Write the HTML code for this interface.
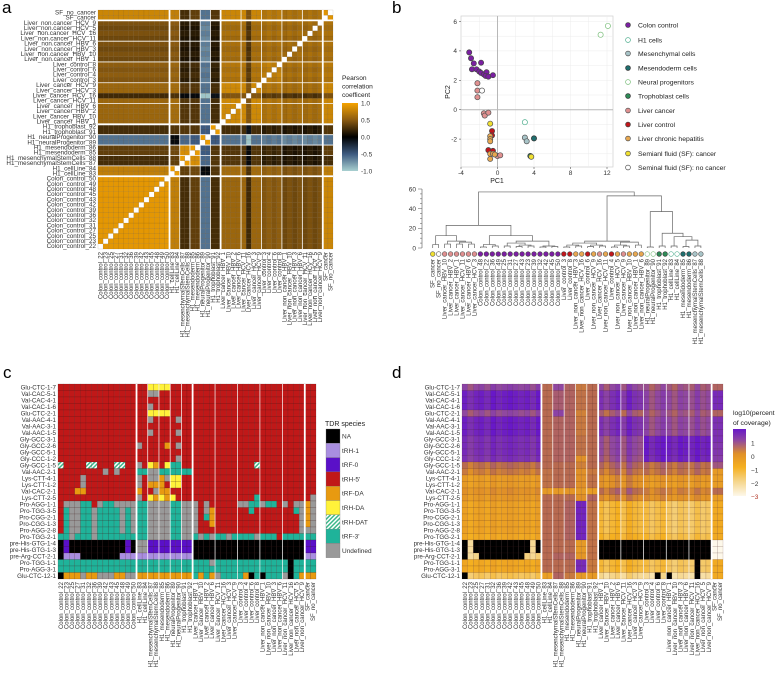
<!DOCTYPE html>
<html><head><meta charset="utf-8"><style>
html,body{margin:0;padding:0;background:#fff;}
svg{display:block;font-family:"Liberation Sans",Arial,sans-serif;}
</style></head><body>
<svg id="fig" width="778" height="673" viewBox="0 0 778 673" xmlns="http://www.w3.org/2000/svg">
<defs>
<pattern id="hatch" width="3" height="3" patternUnits="userSpaceOnUse" patternTransform="rotate(45)">
<rect width="3" height="3" fill="#ffffff"/><rect width="1.5" height="3" fill="#3cb88a"/>
</pattern>
<linearGradient id="gradA" x1="0" y1="0" x2="0" y2="1">
<stop offset="0" stop-color="#f5a300"/><stop offset="0.25" stop-color="#8a5a10"/><stop offset="0.5" stop-color="#000"/><stop offset="0.75" stop-color="#3d5a80"/><stop offset="1" stop-color="#a8d0d0"/>
</linearGradient>
<linearGradient id="gradD" x1="0" y1="0" x2="0" y2="1">
<stop offset="0" stop-color="#6818c8"/><stop offset="0.17" stop-color="#9048a0"/><stop offset="0.37" stop-color="#e09028"/><stop offset="0.57" stop-color="#f5b020"/><stop offset="0.78" stop-color="#f5d58a"/><stop offset="1" stop-color="#fdf8ea"/>
</linearGradient>
</defs>
<text x="2" y="13" font-size="17">a</text>
<text x="392" y="13" font-size="17">b</text>
<text x="3" y="378" font-size="17">c</text>
<text x="392" y="378" font-size="17">d</text>
<g id="ga"></g>
<g id="gb"></g>
<g id="gdend"></g>
<g id="gc"></g>
<g id="gd"></g>
</svg>
<script>
const samples=["Colon_control_22","Colon_control_23","Colon_control_25","Colon_control_27","Colon_control_31","Colon_control_32","Colon_control_36","Colon_control_39","Colon_control_42","Colon_control_43","Colon_control_45","Colon_control_48","Colon_control_49","Colon_control_50","H1_cellLine_83","H1_cellLine_84","H1_mesenchymalStemCells_87","H1_mesenchymalStemCells_88","H1_mesendoderm_85","H1_mesendoderm_86","H1_neuralProgenitor_89","H1_neuralProgenitor_90","H1_trophoblast_91","H1_trophoblast_92","Liver_cancer_HBV_1","Liver_cancer_HBV_10","Liver_cancer_HBV_2","Liver_cancer_HBV_6","Liver_cancer_HCV_11","Liver_cancer_HCV_16","Liver_cancer_HCV_3","Liver_cancer_HCV_9","Liver_control_3","Liver_control_4","Liver_control_6","Liver_control_8","Liver_non_cancer_HBV_1","Liver_non_cancer_HBV_10","Liver_non_cancer_HBV_3","Liver_non_cancer_HBV_6","Liver_non_cancer_HCV_11","Liver_non_cancer_HCV_16","Liver_non_cancer_HCV_5","Liver_non_cancer_HCV_9","SF_cancer","SF_no_cancer"];
const sampleGroup=[0,0,0,0,0,0,0,0,0,0,0,0,0,0,1,1,2,2,3,3,4,4,5,5,6,6,6,6,6,6,6,6,7,7,7,7,8,8,8,8,8,8,8,8,9,9];
const groupCorr=[
[0.92,0.75,0.25,0.35,-0.6,0.25,0.58,0.52,0.5,0.8],
[0.75,0.95,0.35,0.4,-0.05,0.3,0.62,0.58,0.55,0.75],
[0.25,0.35,0.95,0.85,-0.55,0.3,0.3,0.2,0.2,0.25],
[0.35,0.4,0.85,0.95,-0.5,0.3,0.3,0.25,0.2,0.35],
[-0.6,-0.05,-0.55,-0.5,0.95,-0.5,-0.6,-0.6,-0.6,-0.6],
[0.25,0.3,0.3,0.3,-0.5,0.95,0.25,0.2,0.2,0.3],
[0.58,0.62,0.3,0.3,-0.6,0.25,0.82,0.7,0.7,0.8],
[0.52,0.58,0.2,0.25,-0.6,0.2,0.7,0.78,0.72,0.72],
[0.5,0.55,0.2,0.2,-0.6,0.2,0.7,0.72,0.75,0.72],
[0.8,0.75,0.25,0.35,-0.6,0.3,0.8,0.72,0.72,0.9]];
const corrSampleShift=[0,0,0,0,0,0,0,0,0,0,0,0,0,0, 0,0,0,0,0,0,0,0,0,0, 0,0,0,0,0,-0.35,0,0, -0.05,0,-0.05,0, -0.1,-0.05,-0.1,-0.05,-0.1,-0.05,-0.1,-0.05, 0,0];
const corrTicks=[1.0,0.5,0.0,-0.5,-1.0];
// PCA
const pcaX=[-3.1,-2.9,-2.6,-1.8,-2.8,-2.3,-2,-1.8,-1.5,-1.2,-1.3,-1,-0.5, 3.0, 3.0,3.2, 4.0, 11.3,12.1, 3.6, -2.2,-2.2,-2.2,-1.5,-1.4,-1.0,0.0,0.3, -0.6,-0.6,-1.0,-0.5, -0.8,-0.8,-0.8,-0.8,-0.5,-0.8,-0.3, -0.8,3.7, -1.7];
const pcaY=[3.9,3.5,3.15,3.2,2.75,2.75,2.6,2.5,2.4,2.55,2.3,2.25,2.35, -0.85, -1.9,-2.15, -1.95, 5.1,5.7, -3.15, 1.8,1.3,0.85,-0.25,-0.4,-0.2,-3.15,-3.1, -1.45,-1.75,-2.75,-2.8, -1.8,-2.0,-2.15,-3.0,-3.0,-3.35,-3.05, -0.95,-3.2, 1.3];
const pcaGroup=[0,0,0,0,0,0,0,0,0,0,0,0,0, 1, 2,2, 3, 4,4, 5, 6,6,6,6,6,6,6,6, 7,7,7,7, 8,8,8,8,8,8,8, 9,9, 10];
const groupNames=["Colon control","H1 cells","Mesenchymal cells","Mesendoderm cells","Neural progenitors","Trophoblast cells","Liver cancer","Liver control","Liver chronic hepatitis","Semianl fluid (SF): cancer","Seminal fluid (SF): no cancer"];
const pcaXTicks=[-4,0,4,8,12];
const pcaYTicks=[-2,0,2,4,6];
// dendrogram
const leafNames=["SF_cancer","SF_no_cancer","Liver_cancer_HBV_10","Liver_cancer_HBV_2","Liver_cancer_HBV_1","Liver_cancer_HCV_11","Liver_cancer_HBV_6","Liver_cancer_HCV_3","Colon_control_48","Colon_control_22","Colon_control_36","Colon_control_49","Colon_control_25","Colon_control_31","Colon_control_27","Colon_control_43","Colon_control_23","Colon_control_39","Colon_control_32","Colon_control_42","Colon_control_45","Colon_control_50","Liver_control_3","Liver_control_8","Liver_non_cancer_HBV_3","Liver_non_cancer_HCV_16","Liver_control_6","Liver_non_cancer_HCV_9","Liver_cancer_HCV_16","Liver_non_cancer_HCV_11","Liver_control_4","Liver_non_cancer_HCV_5","Liver_cancer_HCV_9","Liver_non_cancer_HBV_10","Liver_non_cancer_HBV_1","Liver_non_cancer_HBV_6","H1_neuralProgenitor_89","H1_neuralProgenitor_90","H1_trophoblast_91","H1_trophoblast_92","H1_cellLine_83","H1_cellLine_84","H1_mesendoderm_85","H1_mesendoderm_86","H1_mesenchymalStemCells_87","H1_mesenchymalStemCells_88"];
const leafGroup=[9,10,6,6,6,6,6,6,0,0,0,0,0,0,0,0,0,0,0,0,0,0,7,7,8,8,7,8,6,8,7,8,6,8,8,8,4,4,5,5,1,1,3,3,2,2];
const tree=[57,[23,[12.5,[3.5,0,1],[7,[4,2,3],[6,[4,4,5],[4,6,7]]]],[12.5,[3.5,[1,8,9],[2,10,11]],[7,[5,[2,12,13],[3,[1.5,14,15],[2,16,17]]],[2,[1,18,19],[1.5,20,21]]]]],[53,[7,[5,[3,[1,22,23],[2,24,25]],[3,[1.5,26,27],[2,28,29]]],[6,[3,[1,30,31],[2,32,33]],[3,34,35]]],[37,[1,36,37],[15,[2,38,39],[11.5,[2,40,41],[8,[1.5,42,43],[2,44,45]]]]]]];
const dendTicks=[0,20,40,60];
// panel c
const trnaRows=["Glu-CTC-1-7","Val-CAC-5-1","Val-CAC-4-1","Val-CAC-1-6","Glu-CTC-2-1","Val-AAC-4-1","Val-AAC-3-1","Val-AAC-1-5","Gly-GCC-3-1","Gly-GCC-2-6","Gly-GCC-5-1","Gly-CCC-1-2","Gly-GCC-1-5","Val-AAC-2-1","Lys-CTT-4-1","Lys-CTT-1-2","Val-CAC-2-1","Lys-CTT-2-5","Pro-AGG-1-1","Pro-TGG-3-5","Pro-CGG-2-1","Pro-CGG-1-3","Pro-AGG-2-8","Pro-TGG-2-1","pre-His-GTG-1-4","pre-His-GTG-1-3","pre-Arg-CCT-2-1","Pro-TGG-1-1","Pro-AGG-3-1","Glu-CTC-12-1"];
const R14="RRRRRRRRRRRRRR",R10="RRRRRRRRRR",R20="RRRRRRRRRRRRRRRRRRRR",N20="NNNNNNNNNNNNNNNNNNNN";
const speciesRows=[
[R14,"RRYYYYRRRR",R20,"RR"],
[R14,"RRUURRRRRR",R20,"RR"],
[R14,R10,R20,"RR"],
[R14,"RRURRRRRRR",R20,"RR"],
[R14,"RRYYYYRRRR",R20,"RR"],
[R14,"RRURRRRURR",R20,"RR"],
[R14,R10,R20,"RR"],
[R14,"RRURRRRURR",R20,"RR"],
[R14,R10,R20,"RR"],
[R14,"URRRRDRURR",R20,"RR"],
[R14,R10,R20,"RR"],
[R14,"RRRRRRRURR",R20,"RR"],
["TRRRRTTRRRTTRR","URYDRY33RR","RRRRRRRRRRRTRRRRRRRR","RR"],
["RRRRRRRRURURRR","33UU333333",R20,"RR"],
["RRRRURRRRRRRRR","URUUDUYYRR",R20,"RR"],
["RRRRURRRRRRRRR","URDDDRYYRR",R20,"RR"],
["RRRDDRRRRRRRRR","DRRUDDRRRR",R20,"RR"],
[R14,"URYDYDYRRR","RRRRRRRRRRR3RRRRRRRR","RU"],
["RUUU33RU33UUUU","33UUUU33UU","URURRRRRUU33U33RURUU","DU"],
["R3UU33U3333U3U","33UUUU33UU","URUDRRRRRR3RRRRRRR3U","DU"],
["R3UU33U3333U3U","33UUUU33UU","UR3DRRRRRRRRRRRRRRRU","DU"],
["R3UU33U3333U3U","33UUUU33UU","URRDRRRRRRRRRRRRRRRU","DU"],
["R3UU33U3333U3U","33UUUU33UU","URRRRRRRRRRRRRRRRRRU","UU"],
["33U333U3333333","33UUUU33UU","3U3U33U3333U333R3333","33"],
["N0NNNNNNNNNN0N","UU00000000",N20,"00"],
["N0NNNNNNNNNN0N","UU00000000",N20,"00"],
["N111NNNNNNN111","1111111111",N20,"11"],
["33333333333333","3333333333","333U3333333333333N33","33"],
["33333333333333","3333333333","33333333333333333N33","33"],
["NDDDUDDUUUDDUU","DDDDDDDDDD","3D3DU3333DN3N333UN3D","DD"]];
const speciesCodes=["N","1","0","R","D","Y","T","3","U"];
const speciesLabels=["NA","tRH-1","tRF-0","tRH-5'","tRF-DA","tRH-DA","tRH-DAT","tRF-3'","Undefined"];
const speciesColors=["#000000","#a98ee0","#5a10c8","#c01818","#e89a10","#fff23a","url(#hatch)","#1fb39a","#999999"];
// panel d
const covGroupVals=[
[1.0,0.5,1.0,0.6,0.3,0.5,1.0,0.8,0.8,0.6],
[1.6,0.5,0.7,0.6,0.4,0.5,1.4,1.0,1.0,1.5],
[1.6,0.5,0.7,0.6,0.4,0.5,1.4,1.0,1.0,1.5],
[1.6,0.5,0.7,0.6,0.4,0.5,1.4,1.0,1.0,1.5],
[0.9,0.5,1.1,0.6,0.2,0.5,0.7,0.8,0.8,0.6],
[1.6,0.5,0.6,0.6,0.3,0.5,1.4,1.0,1.0,1.4],
[1.6,0.5,0.6,0.6,0.3,0.5,1.4,1.0,1.0,1.4],
[1.6,0.5,0.6,0.6,0.3,0.5,1.4,1.0,1.0,1.4],
[1.4,0.5,0.6,0.6,0.4,0.5,1.0,1.7,1.7,1.4],
[1.4,0.5,0.6,0.6,0.4,0.5,1.0,1.7,1.7,1.3],
[1.4,0.5,0.6,0.6,0.4,0.5,1.0,1.7,1.7,1.3],
[1.3,0.5,0.6,0.6,0.0,0.5,0.9,1.6,1.6,1.2],
[0.4,0.5,0.5,0.5,0.2,0.5,0.6,0.5,0.5,0.8],
[0.2,0.4,0.5,0.5,0.0,0.3,0.4,0.4,0.4,-0.3],
[-0.4,0.4,0.5,0.5,0.0,0.4,0.0,-0.2,-0.2,-0.4],
[-0.4,0.4,0.5,0.5,0.0,0.4,0.0,-0.3,-0.3,-0.4],
[-0.1,-0.3,-0.3,-0.2,-0.3,-0.4,0.5,0.2,0.2,0.5],
[-0.3,0.5,0.5,0.5,0.0,0.6,0.1,0.0,-0.1,-0.4],
[-0.6,0.5,0.5,0.6,1.6,0.4,-1.2,-1.4,-1.6,-0.8],
[-0.6,0.5,0.5,0.6,1.6,0.4,-1.2,-1.4,-1.6,-0.8],
[-0.6,0.5,0.5,0.6,1.6,0.4,-1.2,-1.4,-1.6,-0.8],
[-0.6,0.5,0.5,0.6,1.6,0.4,-1.2,-1.4,-1.6,-0.8],
[-0.6,0.5,0.5,0.6,1.6,0.4,-1.2,-1.4,-1.6,-0.8],
[-0.8,0.5,0.5,0.6,1.6,0.4,-1.0,-1.2,-1.4,-0.8],
[-2.0,0.5,0.5,0.5,-0.3,0.4,-2,-2,-2,-3],
[-2.0,0.5,0.5,0.5,-0.3,0.4,-2,-2,-2,-3],
[-2.0,0.5,0.6,0.6,-0.2,0.4,-2,-2,-2,-3],
[-0.8,0.5,0.5,0.5,1.5,0.3,-1.2,-1.4,-1.6,-0.8],
[-0.8,0.5,0.5,0.5,1.5,0.3,-1.2,-1.4,-1.6,-0.8],
[-1.6,-0.5,0.6,0.3,-0.3,-0.3,-2.0,-2.2,-2.2,-0.8]];
const covColShift=[0.1,-0.2,0,0.1,-0.1,0.2,0,0.1,0.2,0.1,0,0.1,-0.1,0.2, 0,0,0,0,0,0,0,0,0,0, 0,-0.3,0,0.2,-0.2,0.3,0,-0.1,0.1,-0.2,0,0.2,0,-0.2,0.1,0,-0.1,0.2,-0.1,0, 0,0];
const covNA={24:"N.NNNNNNNNNN.N..........NNNNNNNNNNNNNNNNNNNN..",25:"N.NNNNNNNNNN.N..........NNNNNNNNNNNNNNNNNNNN..",26:"N..NNNNNNNN.............NNNNNNNNNNNNNNNNNNNN..",27:".........................................N....",28:".........................................N....",29:"N.................................N.N....N...."};
const covTicks=[1,0,-1,-2,-3];

const NS="http://www.w3.org/2000/svg";
function mk(parent,tag,attrs,name,text){
  const el=document.createElementNS(NS,tag);
  for(const k in attrs) el.setAttribute(k,attrs[k]);
  
  
  if(text!==undefined) el.textContent=text;
  parent.appendChild(el);return el;
}
function hex(c){return [parseInt(c.substr(1,2),16),parseInt(c.substr(3,2),16),parseInt(c.substr(5,2),16)];}
function interp(stops,v){
  if(v<=stops[0][0]) return stops[0][1];
  for(let i=1;i<stops.length;i++){ if(v<=stops[i][0]){const t=(v-stops[i-1][0])/(stops[i][0]-stops[i-1][0]);const a=hex(stops[i-1][1]),b=hex(stops[i][1]);return "rgb("+a.map((x,j)=>Math.round(x+(b[j]-x)*t)).join(",")+")";}}
  return stops[stops.length-1][1];
}
const corrStops=[[-1,"#a8d0d0"],[-0.5,"#3d5a80"],[0,"#000000"],[0.5,"#8a5a10"],[1,"#f5a300"]];
const covStops=[[-3,"#fdf8ea"],[-2,"#f5d58a"],[-1,"#f5b020"],[0,"#e09028"],[0.5,"#b86a50"],[1,"#9048a0"],[1.8,"#6818c8"]];
const n=samples.length;
const thick=[13,23,43], thin=[15,17,19,21,27,31,35,39];

// ---------- Panel A ----------
(function(){
  const g=document.getElementById('ga');
  const x0=98,x1=333,y0=10,y1=249,cw=(x1-x0)/n,ch=(y1-y0)/n;
  const X=i=>x0+i*cw, Y=i=>y1-(i+1)*ch;
  for(let r=0;r<n;r++)for(let c=0;c<n;c++){
    const v=r===c?null:Math.min(1,groupCorr[sampleGroup[r]][sampleGroup[c]]+corrSampleShift[r]+corrSampleShift[c]);
    mk(g,'rect',{x:X(c),y:Y(r),width:cw,height:ch,fill:v===null?'#ffffff':interp(corrStops,v),stroke:'rgba(90,60,20,0.35)','stroke-width':0.3},'corr-cell');
  }
  thick.concat(thin).forEach(i=>{const w=thick.includes(i)?1.8:0.8;
    mk(g,'line',{x1:X(i+1),x2:X(i+1),y1:y0,y2:y1,stroke:'#fff','stroke-width':w},'group-divider');
    mk(g,'line',{x1:x0,x2:x1,y1:Y(i),y2:Y(i),stroke:'#fff','stroke-width':w},'group-divider');});
  for(let i=0;i<n;i++){
    const yl=samples[i].replace('non_cancer','non.cancer');
    mk(g,'text',{x:x0-2,y:Y(i)+ch-0.8,'font-size':6.3,'text-anchor':'end',fill:'#333'},'y-tick-label',yl);
    const cx=X(i)+cw/2+2;
    mk(g,'text',{x:0,y:0,'font-size':6,'text-anchor':'end',fill:'#333',transform:`translate(${cx},252) rotate(-90)`},'x-tick-label',samples[i]);
  }
  ["Pearson","correlation","coefficent"].forEach((t,i)=>mk(g,'text',{x:342,y:80+i*8.5,'font-size':6.6,fill:'#222'},'legend-title',t));
  mk(g,'rect',{x:342,y:103,width:16,height:68,fill:'url(#gradA)'},'colorbar');
  corrTicks.forEach(v=>{const y=137-v*34;
    mk(g,'text',{x:361,y:y+2.3,'font-size':6.5,fill:'#333'},'colorbar-tick-label',v.toFixed(1));});
})();

// ---------- Panel B scatter ----------
(function(){
  const g=document.getElementById('gb');
  const sx=v=>497.5+v*9.125, sy=v=>109.7-v*14.7;
  const fx0=461,fx1=613,fy0=16,fy1=167;
  mk(g,'rect',{x:fx0,y:fy0,width:fx1-fx0,height:fy1-fy0,fill:'#fff',stroke:'#cfcfcf','stroke-width':0.7},'plot-frame');
  for(let v=-4;v<=14;v+=2){const x=sx(v);if(x>fx0&&x<fx1)mk(g,'line',{x1:x,x2:x,y1:fy0,y2:fy1,stroke:'#ececec','stroke-width':0.5},'grid-line');}
  for(let v=-3;v<=6;v+=1){const y=sy(v);if(y>fy0&&y<fy1)mk(g,'line',{x1:fx0,x2:fx1,y1:y,y2:y,stroke:'#ececec','stroke-width':0.5},'grid-line');}
  mk(g,'line',{x1:sx(0),x2:sx(0),y1:fy0,y2:fy1,stroke:'#b8b8b8','stroke-width':1},'zero-line-x');
  mk(g,'line',{x1:fx0,x2:fx1,y1:sy(0),y2:sy(0),stroke:'#b8b8b8','stroke-width':1},'zero-line-y');
  pcaXTicks.forEach(v=>{mk(g,'line',{x1:sx(v),x2:sx(v),y1:fy1,y2:fy1+2,stroke:'#555','stroke-width':0.6},'x-tick');
    mk(g,'text',{x:sx(v),y:fy1+8,'font-size':6.5,'text-anchor':'middle',fill:'#333'},'x-tick-label',String(v));});
  pcaYTicks.forEach(v=>{mk(g,'line',{x1:fx0-2,x2:fx0,y1:sy(v),y2:sy(v),stroke:'#555','stroke-width':0.6},'y-tick');
    mk(g,'text',{x:fx0-4,y:sy(v)+2.3,'font-size':6.5,'text-anchor':'end',fill:'#333'},'y-tick-label',String(v));});
  mk(g,'text',{x:497,y:183,'font-size':7,'text-anchor':'middle',fill:'#222'},'x-axis-title','PC1');
  mk(g,'text',{x:0,y:0,'font-size':7,'text-anchor':'middle',fill:'#222',transform:'translate(450,92) rotate(-90)'},'y-axis-title','PC2');
  for(let i=0;i<pcaX.length;i++){
    const c=ptColor(pcaGroup[i]);
    mk(g,'circle',{cx:sx(pcaX[i]),cy:sy(pcaY[i]),r:2.6,fill:c.f,stroke:c.s,'stroke-width':0.7},'pca-point');
  }
  const ly=[25,40,53.5,68,82,96,110.5,124.5,138.5,153.5,167.5];
  groupNames.forEach((nm,i)=>{const c=ptColor(i);
    mk(g,'circle',{cx:628,cy:ly[i],r:2.4,fill:c.f,stroke:c.s,'stroke-width':0.7},'legend-marker');
    mk(g,'text',{x:638,y:ly[i]+2.5,'font-size':6.8,fill:'#222'},'legend-entry',nm);});
})();
function ptColor(gi){
  const f=["#7b1fa2","#ffffff","#a8c4c8","#1f6e6e","#ffffff","#2e8b57","#e09090","#c0161c","#e8a850","#f0e030","#ffffff"][gi];
  const s=["#444","#4fae8e","#555","#333","#7bbf7b","#333","#555","#444","#555","#555","#555"][gi];
  return {f,s};
}

// ---------- Dendrogram ----------
(function(){
  const g=document.getElementById('gdend');
  const lx=i=>432.7+i*5.96, hy=h=>248-h*59/60;
  function draw(node){
    if(typeof node==='number') return {x:lx(node),h:0};
    const a=draw(node[1]),b=draw(node[2]),y=hy(node[0]);
    mk(g,'path',{d:`M${a.x},${hy(a.h)}V${y}H${b.x}V${hy(b.h)}`,fill:'none',stroke:'#666','stroke-width':0.7},'dendrogram-branch');
    return {x:(a.x+b.x)/2,h:node[0]};
  }
  draw(tree);
  mk(g,'line',{x1:422,x2:422,y1:hy(60),y2:hy(0),stroke:'#555','stroke-width':0.6},'y-axis');
  for(let v=0;v<=60;v+=5){mk(g,'line',{x1:v%20===0?418:420,x2:422,y1:hy(v),y2:hy(v),stroke:'#555','stroke-width':0.5},'y-tick');}
  dendTicks.forEach(v=>mk(g,'text',{x:416,y:hy(v)+2.3,'font-size':6.5,'text-anchor':'end',fill:'#333'},'y-tick-label',String(v)));
  for(let i=0;i<leafNames.length;i++){
    const c=ptColor(leafGroup[i]);
    mk(g,'circle',{cx:lx(i),cy:254,r:2.3,fill:c.f,stroke:c.s,'stroke-width':0.6},'leaf-marker');
    mk(g,'text',{x:0,y:0,'font-size':6,'text-anchor':'end',fill:'#333',transform:`translate(${lx(i)+2},259) rotate(-90)`},'leaf-label',leafNames[i]);
  }
})();

// ---------- Panels C & D ----------
function heat(gid,x0,x1,labelX,fillFn,cellStroke){
  const g=document.getElementById(gid);
  const y0=384,y1=579,rh=(y1-y0)/trnaRows.length,cw=(x1-x0)/n;
  const X=i=>x0+i*cw;
  for(let r=0;r<trnaRows.length;r++){
    for(let c=0;c<n;c++) mk(g,'rect',{x:X(c),y:y0+r*rh,width:cw,height:rh,fill:fillFn(r,c),stroke:cellStroke,'stroke-width':0.35},'heat-cell');
    mk(g,'text',{x:labelX,y:y0+r*rh+rh-1.2,'font-size':6.2,'text-anchor':'end',fill:'#333'},'row-label',trnaRows[r]);
  }
  thick.concat(thin).forEach(i=>mk(g,'line',{x1:X(i+1),x2:X(i+1),y1:y0,y2:y1,stroke:'#fff','stroke-width':thick.includes(i)?1.8:0.7},'group-divider'));
  for(let i=0;i<n;i++) mk(g,'text',{x:0,y:0,'font-size':6,'text-anchor':'end',fill:'#333',transform:`translate(${X(i)+cw/2+2},582) rotate(-90)`},'column-label',samples[i]);
  return g;
}
(function(){
  const g=heat('gc',58,316,56,(r,c)=>{const s=speciesRows[r].join('');return speciesColors[speciesCodes.indexOf(s[c])]||'#c01818';},'rgba(60,20,20,0.45)');
  mk(g,'text',{x:325,y:426,'font-size':7,fill:'#222'},'legend-title','TDR species');
  speciesLabels.forEach((lb,i)=>{
    mk(g,'rect',{x:326,y:429+i*14.3,width:14,height:14.3,fill:speciesColors[i],stroke:'#777','stroke-width':0.3},'legend-swatch');
    mk(g,'text',{x:342,y:429+i*14.3+9.5,'font-size':6.5,fill:'#333'},'legend-entry',lb);
  });
})();
(function(){
  const grpIdx=[0,0,0,0,0,0,0,0,0,0,0,0,0,0,1,1,2,2,3,3,4,4,5,5,6,6,6,6,6,6,6,6,7,7,7,7,8,8,8,8,8,8,8,8,9,9];
  const g=heat('gd',462,723,460,(r,c)=>{
    if(covNA[r]&&covNA[r][c]==='N') return '#000000';
    return interp(covStops,covGroupVals[r][grpIdx[c]]+covColShift[c]);},'rgba(70,30,30,0.35)');
  mk(g,'text',{x:733,y:415,'font-size':6.8,fill:'#222'},'legend-title','log10(percent');
  mk(g,'text',{x:733,y:425,'font-size':6.8,fill:'#222'},'legend-title','of coverage)');
  mk(g,'rect',{x:733,y:429,width:13,height:67,fill:'url(#gradD)'},'colorbar');
  covTicks.forEach(v=>mk(g,'text',{x:751,y:456.7-v*13.4+2.3,'font-size':6.5,fill:v===-3?'#b03020':'#333'},'colorbar-tick-label',v===0?'0':(v<0?'\u2212'+(-v):String(v))));
})();
</script>
</body></html>
